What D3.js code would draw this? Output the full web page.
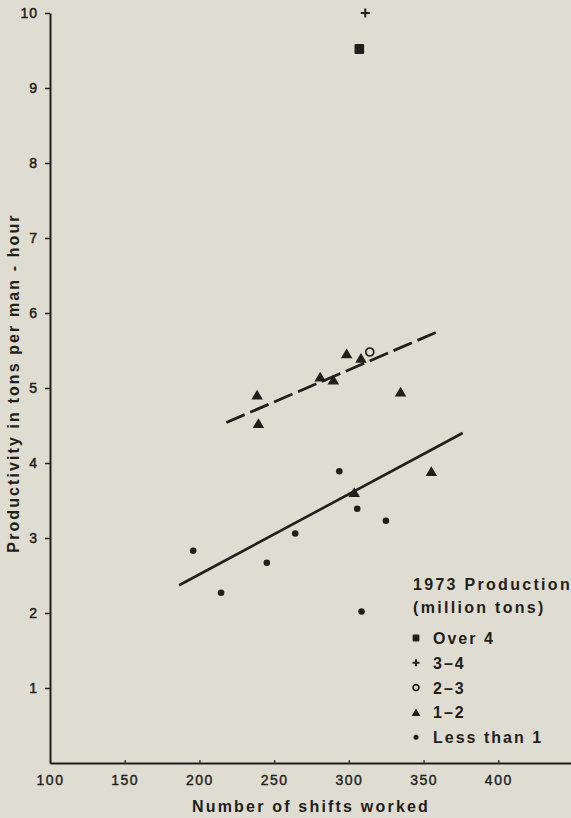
<!DOCTYPE html>
<html>
<head>
<meta charset="utf-8">
<script src="https://cdn.jsdelivr.net/npm/d3@7"></script>
<style>
  body { margin: 0; background: #dfddd1; }
  svg { display: block; }
  text { font-family: "Liberation Sans", Arial, sans-serif; fill: #221e1b; }
</style>
</head>
<body>
<div id="chart"></div>
<script>
// data: shifts worked vs tons per man-hour, by 1973 production class
var over4 = [ { shifts: 307, prod: 9.52 } ];
var prod3to4 = [ { shifts: 311, prod: 10.0 } ];
var prod2to3 = [ { shifts: 314, prod: 5.48 } ];
var prod1to2 = [
  { shifts: 238.6, prod: 4.91 },
  { shifts: 239.5, prod: 4.53 },
  { shifts: 280.8, prod: 5.15 },
  { shifts: 289.6, prod: 5.11 },
  { shifts: 298.5, prod: 5.46 },
  { shifts: 308.1, prod: 5.40 },
  { shifts: 334.6, prod: 4.95 },
  { shifts: 303.6, prod: 3.61 },
  { shifts: 355.2, prod: 3.89 }
];
var lessThan1 = [
  { shifts: 195.8, prod: 2.83 },
  { shifts: 214.5, prod: 2.27 },
  { shifts: 245.1, prod: 2.67 },
  { shifts: 264.1, prod: 3.06 },
  { shifts: 293.6, prod: 3.89 },
  { shifts: 305.6, prod: 3.39 },
  { shifts: 324.8, prod: 3.23 },
  { shifts: 308.5, prod: 2.02 }
];
// fitted trend lines (end points)
var dashedFit = [ { shifts: 218, prod: 4.54 }, { shifts: 361.7, prod: 5.77 } ];
var solidFit = [ { shifts: 186.4, prod: 2.37 }, { shifts: 376.2, prod: 4.40 } ];

var xTicks = [100, 150, 200, 250, 300, 350, 400];
var yTicks = [1, 2, 3, 4, 5, 6, 7, 8, 9, 10];
var legendLabels = ["Over 4", "3\u20134", "2\u20133", "1\u20132", "Less than 1"];
var legendTypes = ["square", "plus", "circle", "triangle", "dot"];

var w = 571, h = 818;
var ink = "#221e1b";

var svg = d3.select("#chart").append("svg")
            .attr("width", w)
            .attr("height", h);

svg.append("rect")
   .attr("width", w)
   .attr("height", h)
   .attr("fill", "#dfddd1");

var xScale = d3.scaleLinear()
               .domain([100, 450])
               .range([50, 573]);
var yScale = d3.scaleLinear()
               .domain([0, 10])
               .range([763, 13]);

// x axis
var xAxis = d3.axisBottom(xScale)
              .tickValues(xTicks)
              .tickSizeInner(-3)
              .tickSizeOuter(0)
              .tickPadding(12);
var gx = svg.append("g")
            .attr("class", "xAxis")
            .attr("transform", "translate(0," + yScale(0) + ")")
            .call(xAxis);
gx.select(".domain").attr("stroke", ink).attr("stroke-width", 2);
gx.selectAll(".tick line").attr("stroke", ink).attr("stroke-width", 1.2);
gx.selectAll(".tick text")
  .style("font-size", "14px")
  .style("letter-spacing", "1.5px")
  .attr("fill", ink)
  .attr("stroke", ink)
  .attr("stroke-width", 0.4);

// y axis
var yAxis = d3.axisLeft(yScale)
              .tickValues(yTicks)
              .tickSizeInner(5)
              .tickSizeOuter(0)
              .tickPadding(7);
var gy = svg.append("g")
            .attr("class", "yAxis")
            .attr("transform", "translate(" + xScale(100) + ",0)")
            .call(yAxis);
gy.select(".domain").attr("stroke", ink).attr("stroke-width", 2);
gy.selectAll(".tick line").attr("stroke", ink).attr("stroke-width", 1.5);
gy.selectAll(".tick text")
  .style("font-size", "14px")
  .style("letter-spacing", "1px")
  .attr("fill", ink)
  .attr("stroke", ink)
  .attr("stroke-width", 0.5);

// axis titles
svg.append("text")
   .attr("x", 311)
   .attr("y", 812)
   .attr("text-anchor", "middle")
   .style("font-size", "16px")
   .style("font-weight", "bold")
   .style("letter-spacing", "2.2px")
   .text("Number of shifts worked");

svg.append("text")
   .attr("transform", "translate(19,383) rotate(-90)")
   .attr("text-anchor", "middle")
   .style("font-size", "16px")
   .style("font-weight", "bold")
   .style("letter-spacing", "2.1px")
   .text("Productivity in tons per man - hour");

// trend lines
var line = d3.line()
             .x(function(d) { return xScale(d.shifts); })
             .y(function(d) { return yScale(d.prod); });

svg.append("path")
   .attr("d", line(dashedFit))
   .attr("fill", "none")
   .attr("stroke", ink)
   .attr("stroke-width", 2.8)
   .attr("stroke-dasharray", "20,6");

svg.append("path")
   .attr("d", line(solidFit))
   .attr("fill", "none")
   .attr("stroke", ink)
   .attr("stroke-width", 2.6);

// marker shapes
function drawMarker(g, type, s) {
  if (type == "square") {
    g.append("rect")
     .attr("x", -s * 0.48).attr("y", -s * 0.5)
     .attr("width", s * 0.96).attr("height", s)
     .attr("rx", 1)
     .attr("fill", ink);
  }
  else if (type == "plus") {
    g.append("path")
     .attr("d", "M" + (-s / 2) + ",0H" + (s / 2) + "M0," + (-s / 2) + "V" + (s / 2))
     .attr("stroke", ink)
     .attr("stroke-width", 2);
  }
  else if (type == "circle") {
    g.append("circle")
     .attr("r", s / 2 - 1)
     .attr("fill", "none")
     .attr("stroke", ink)
     .attr("stroke-width", 1.7);
  }
  else if (type == "triangle") {
    g.append("path")
     .attr("d", "M0," + (-s * 0.48) + "L" + (s * 0.55) + "," + (s * 0.45) + "L" + (-s * 0.55) + "," + (s * 0.45) + "Z")
     .attr("fill", ink);
  }
  else {
    g.append("circle")
     .attr("r", s / 2)
     .attr("fill", ink);
  }
}

function drawSeries(data, type, s) {
  svg.selectAll(null)
     .data(data)
     .enter()
     .append("g")
     .attr("transform", function(d) { return "translate(" + xScale(d.shifts) + "," + yScale(d.prod) + ")"; })
     .each(function() { drawMarker(d3.select(this), type, s); });
}

drawSeries(over4, "square", 10);
drawSeries(prod3to4, "plus", 9);
drawSeries(prod2to3, "circle", 10);
drawSeries(prod1to2, "triangle", 10.5);
drawSeries(lessThan1, "dot", 6.6);

// legend
var legend = svg.append("g").attr("transform", "translate(413,0)");
legend.append("text")
      .attr("x", 0).attr("y", 590)
      .style("font-size", "16px").style("font-weight", "bold").style("letter-spacing", "2.3px")
      .text("1973 Production");
legend.append("text")
      .attr("x", 0).attr("y", 613)
      .style("font-size", "16px").style("font-weight", "bold").style("letter-spacing", "2.3px")
      .text("(million tons)");

var legendSizes = [7, 7, 8, 8, 5];
var items = legend.selectAll(".item")
                  .data(legendLabels)
                  .enter()
                  .append("g")
                  .attr("class", "item")
                  .attr("transform", function(d, i) { return "translate(0," + (638 + i * 24.8) + ")"; });
items.each(function(d, i) {
  var m = d3.select(this).append("g").attr("transform", "translate(3,0)");
  drawMarker(m, legendTypes[i], legendSizes[i]);
});
items.append("text")
     .attr("x", 20)
     .attr("y", 6)
     .style("font-size", "16px")
     .style("font-weight", "bold")
     .style("letter-spacing", "2px")
     .text(function(d) { return d; });
</script>
</body>
</html>
